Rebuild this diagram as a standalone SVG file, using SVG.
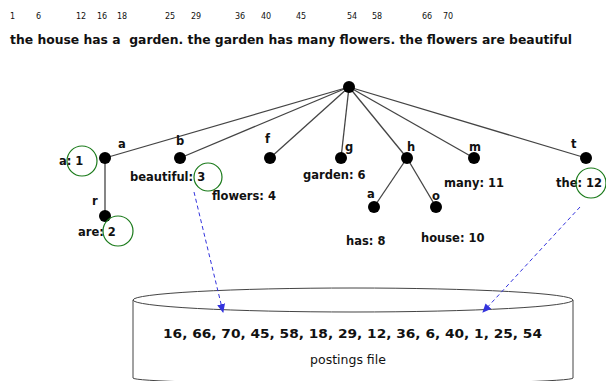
<svg xmlns="http://www.w3.org/2000/svg" width="606" height="381" viewBox="0 0 606 381">
<style>
text{font-family:"DejaVu Sans","Liberation Sans",sans-serif;fill:#111}
.num{font-size:8px}
.lab{font-size:11.5px;font-weight:bold}
.el{font-size:11.5px;font-weight:bold}
.edge{stroke:#444;stroke-width:1.3;fill:none}
.dot{fill:#000}
.ring{fill:none;stroke:#1a7a1a;stroke-width:1.2}
.ptr{stroke:#3333dd;stroke-width:1;stroke-dasharray:4 3;fill:none}
</style>
<defs>
<marker id="ah" markerWidth="10" markerHeight="10" refX="8" refY="4" orient="auto" markerUnits="userSpaceOnUse">
<path d="M0,0 L9,4 L0,8 Z" fill="#3333dd"/>
</marker>
</defs>
<rect width="606" height="381" fill="#fff"/>
<g id="positions">
<text class="num" x="10" y="19">1</text>
<text class="num" x="36" y="19">6</text>
<text class="num" x="76" y="19">12</text>
<text class="num" x="97" y="19">16</text>
<text class="num" x="117" y="19">18</text>
<text class="num" x="165" y="19">25</text>
<text class="num" x="191" y="19">29</text>
<text class="num" x="235" y="19">36</text>
<text class="num" x="261" y="19">40</text>
<text class="num" x="296" y="19">45</text>
<text class="num" x="347" y="19">54</text>
<text class="num" x="372" y="19">58</text>
<text class="num" x="422" y="19">66</text>
<text class="num" x="443" y="19">70</text>
</g>
<g id="sentence">
<text x="10" y="44" font-size="13" font-weight="bold" textLength="562" lengthAdjust="spacingAndGlyphs" xml:space="preserve">the house has a  garden. the garden has many flowers. the flowers are beautiful</text>
</g>
<g id="postings">
<path d="M133,300 L133,378 A220,6 0 0 0 573,378 L573,300" fill="#fff" stroke="#444" stroke-width="1"/>
<ellipse cx="353" cy="300" rx="220" ry="12" fill="#fff" stroke="#444" stroke-width="1"/>
<text class="lab" x="163" y="338" font-size="13" textLength="379" lengthAdjust="spacingAndGlyphs">16, 66, 70, 45, 58, 18, 29, 12, 36, 6, 40, 1, 25, 54</text>
<text x="348" y="364" text-anchor="middle" font-size="12.5">postings file</text>
</g>
<g id="connectors">
<line class="edge" x1="349" y1="87" x2="105" y2="158"/>
<line class="edge" x1="349" y1="87" x2="180" y2="158"/>
<line class="edge" x1="349" y1="87" x2="270" y2="158"/>
<line class="edge" x1="349" y1="87" x2="341" y2="158"/>
<line class="edge" x1="349" y1="87" x2="407" y2="158"/>
<line class="edge" x1="349" y1="87" x2="474" y2="158"/>
<line class="edge" x1="349" y1="87" x2="586" y2="158"/>
<line class="edge" x1="105" y1="158" x2="105" y2="216"/>
<line class="edge" x1="407" y1="158" x2="374" y2="207"/>
<line class="edge" x1="407" y1="158" x2="436" y2="207"/>
<line class="ptr" x1="194" y1="192" x2="223" y2="312" marker-end="url(#ah)"/>
<line class="ptr" x1="580" y1="207" x2="483" y2="312" marker-end="url(#ah)"/>
</g>
<g id="root"><circle class="dot" cx="349" cy="87" r="6"/></g>
<g id="node-a">
<circle class="dot" cx="105" cy="158" r="6"/>
<text class="el" x="118" y="148">a</text>
<text class="lab" x="59" y="165">a: 1</text>
<circle class="ring" cx="82" cy="161" r="15"/>
</g>
<g id="node-ar">
<circle class="dot" cx="105" cy="216" r="6"/>
<text class="el" x="92" y="205">r</text>
<text class="lab" x="78" y="236">are: 2</text>
<circle class="ring" cx="118" cy="231" r="15"/>
</g>
<g id="node-b">
<circle class="dot" cx="180" cy="158" r="6"/>
<text class="el" x="176" y="145">b</text>
<text class="lab" x="130" y="181">beautiful: 3</text>
<circle class="ring" cx="208" cy="177" r="14"/>
</g>
<g id="node-f">
<circle class="dot" cx="270" cy="158" r="6"/>
<text class="el" x="265" y="143">f</text>
<text class="lab" x="212" y="200">flowers: 4</text>
</g>
<g id="node-g">
<circle class="dot" cx="341" cy="158" r="6"/>
<text class="el" x="345" y="151">g</text>
<text class="lab" x="303" y="179">garden: 6</text>
</g>
<g id="node-h">
<circle class="dot" cx="407" cy="158" r="6"/>
<text class="el" x="407" y="151">h</text>
</g>
<g id="node-ha">
<circle class="dot" cx="374" cy="207" r="6"/>
<text class="el" x="367" y="198">a</text>
<text class="lab" x="346" y="245">has: 8</text>
</g>
<g id="node-ho">
<circle class="dot" cx="436" cy="207" r="6"/>
<text class="el" x="432" y="200">o</text>
<text class="lab" x="421" y="242">house: 10</text>
</g>
<g id="node-m">
<circle class="dot" cx="474" cy="158" r="6"/>
<text class="el" x="469" y="151">m</text>
<text class="lab" x="444" y="187">many: 11</text>
</g>
<g id="node-t">
<circle class="dot" cx="586" cy="158" r="6"/>
<text class="el" x="571" y="148">t</text>
<text class="lab" x="556" y="187">the: 12</text>
<circle class="ring" cx="591" cy="183" r="15"/>
</g>
</svg>
